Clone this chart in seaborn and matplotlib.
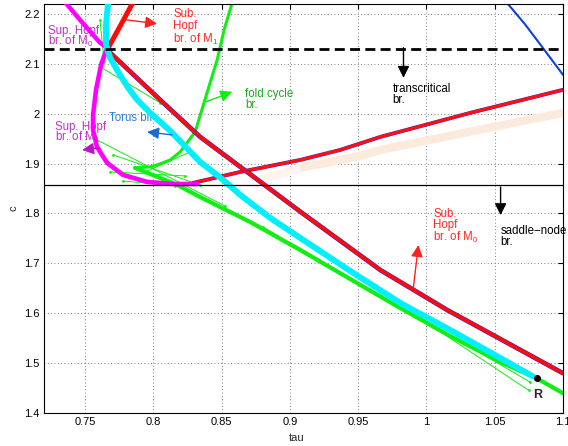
import matplotlib
matplotlib.use("Agg")
import matplotlib.pyplot as plt
import seaborn as sns
from matplotlib.patches import FancyArrowPatch

# ---------------- data (tau, c) ----------------
tau_hopf_m0_sup = [0.7339, 0.7464, 0.7610, 0.7662]
c_hopf_m0_sup = [2.2287, 2.1880, 2.1424, 2.1323]

tau_hopf_m0_sub = [0.7662, 0.7684, 0.8050, 0.8343, 0.9077, 0.9663, 1.0154, 1.1000]
c_hopf_m0_sub = [2.1323, 2.1224, 2.0279, 1.9536, 1.8036, 1.6866, 1.6062, 1.4797]

tau_hopf_m1_sub = [0.7662, 0.7760, 0.7865]
c_hopf_m1_sub = [2.1283, 2.1770, 2.2300]

tau_hopf_m1_sup = [0.7662, 0.7618, 0.7581, 0.7559, 0.7559, 0.7588, 0.7662, 0.7779,
                   0.7955, 0.8146, 0.8321]
c_hopf_m1_sup = [2.1323, 2.0982, 2.0480, 1.9978, 1.9677, 1.9335, 1.9014, 1.8773,
                 1.8633, 1.8592, 1.8592]

tau_red_rising = [0.8292, 0.8637, 0.9077, 0.9370, 0.9663, 1.0322, 1.1000]
c_red_rising = [1.8613, 1.8833, 1.9074, 1.9275, 1.9536, 2.0018, 2.0480]

tau_peach = [0.8747, 0.9077, 0.9516, 0.9663, 1.1000]
c_peach = [1.8653, 1.8914, 1.9155, 1.9275, 2.0018]

tau_blue_top = [1.0585, 1.0601, 1.0720, 1.0835, 1.1000]
c_blue_top = [2.2300, 2.2187, 2.1800, 2.1384, 2.0780]

tau_torus = [0.7672, 0.7669, 0.7654, 0.7654, 0.7684, 0.7742, 0.7816, 0.7882, 0.7977,
             0.8124, 0.8343, 0.8512, 0.8637, 0.8857, 0.9077, 0.9443, 0.9810, 1.0176,
             1.0543, 1.0777]
c_torus = [2.2300, 2.2227, 2.1785, 2.1384, 2.1123, 2.0841, 2.0520, 2.0279, 2.0018,
           1.9657, 1.9034, 1.8673, 1.8372, 1.7910, 1.7508, 1.6845, 1.6203, 1.5661,
           1.5099, 1.4737]

tau_fold_upper = [0.8585, 0.8578, 0.8519, 0.8468, 0.8387, 0.8307, 0.8241, 0.8197,
                  0.8124, 0.8050, 0.7977, 0.7867]
c_fold_upper = [2.2300, 2.2227, 2.1685, 2.1082, 2.0360, 1.9637, 1.9395, 1.9235,
                1.9074, 1.8994, 1.8934, 1.8914]

tau_fold_lower = [0.7867, 0.8050, 0.8175, 0.8343, 0.8710, 0.9077, 0.9443, 0.9810,
                  1.0176, 1.0543, 1.0807, 1.1000]
c_fold_lower = [1.8914, 1.8713, 1.8572, 1.8331, 1.7829, 1.7267, 1.6684, 1.6102,
                1.5540, 1.5018, 1.4697, 1.4396]

# thin continuation segments: (tau0, c0, tau1, c1)
thin_tau0 = [0.7559, 0.7610, 0.7610, 0.7684, 0.7779, 0.8490, 0.8805, 1.0051, 0.9956, 0.7706, 0.7940]
thin_c0 = [1.9516, 2.0942, 2.1880, 1.8833, 1.8653, 1.8127, 1.7725, 1.5721, 1.5902, 1.9175, 1.8833]
thin_tau1 = [0.8527, 0.8050, 0.7640, 0.8234, 0.8160, 0.8732, 0.9568, 1.0748, 1.0762, 0.8343, 0.8270]
thin_c1 = [1.8147, 2.0220, 2.1030, 1.8753, 1.8553, 1.7806, 1.6500, 1.4456, 1.4616, 1.8572, 1.9235]

c_transcritical = 2.13
c_saddle_node = 1.858
tau_R, c_R = 1.0807, 1.4697

x_ticks = [0.75, 0.8, 0.85, 0.9, 0.95, 1.0, 1.05, 1.1]
x_tick_labels = ["0.75", "0.8", "0.85", "0.9", "0.95", "1", "1.05", "1.1"]
y_ticks = [1.4, 1.5, 1.6, 1.7, 1.8, 1.9, 2.0, 2.1, 2.2]
y_tick_labels = ["1.4", "1.5", "1.6", "1.7", "1.8", "1.9", "2", "2.1", "2.2"]

# ---------------- styling ----------------
sns.set_style("white")
plt.rcParams["font.family"] = ["Liberation Sans", "DejaVu Sans"]
plt.rcParams["mathtext.fontset"] = "custom"
plt.rcParams["mathtext.rm"] = "Liberation Sans"
plt.rcParams["mathtext.it"] = "Liberation Sans"

fig = plt.figure(figsize=(5.68, 4.46), dpi=100)
ax = fig.add_axes([0.0775, 0.074, 0.9137, 0.917])


def curve(tau, c, color, lw, z, **kw):
    sns.lineplot(x=tau, y=c, sort=False, estimator=None, color=color,
                 linewidth=lw, ax=ax, zorder=z, **kw)


GREEN = "#11ee11"
# thin green continuation branches
for t0, c0, t1, c1 in zip(thin_tau0, thin_c0, thin_tau1, thin_c1):
    curve([t0, t1], [c0, c1], GREEN, 0.7, 2.0, marker="o", markersize=2,
          markeredgewidth=0)

curve(tau_peach[:2], c_peach[:2], "#fef5ee", 6.0, 1.8, solid_capstyle="butt")
curve(tau_peach[1:], c_peach[1:], "#fcebdd", 6.0, 1.8, solid_capstyle="butt")
curve(tau_fold_upper, c_fold_upper, GREEN, 2.2, 2.2)
curve(tau_fold_lower, c_fold_lower, GREEN, 3.0, 2.2)
curve(tau_blue_top, c_blue_top, "#1040d8", 1.5, 2.3)
curve(tau_red_rising, c_red_rising, "#5020c0", 2.8, 2.4)
curve(tau_red_rising, c_red_rising, "#ff1010", 2.2, 2.45)
curve(tau_hopf_m0_sub, c_hopf_m0_sub, "#4020c0", 3.4, 2.5)
curve(tau_hopf_m0_sub, c_hopf_m0_sub, "#ff0a0a", 2.6, 2.55)
curve(tau_hopf_m1_sub, c_hopf_m1_sub, "#ff0a0a", 3.6, 2.6)
curve(tau_hopf_m0_sup, c_hopf_m0_sup, "#ff00ff", 3.2, 2.7)
curve(tau_hopf_m1_sup, c_hopf_m1_sup, "#ff00ff", 3.3, 2.7)
curve(tau_torus, c_torus, "#00f0ff", 4.3, 2.9)

ax.axhline(c_saddle_node, color="black", lw=0.9, zorder=3.2)
ax.axhline(c_transcritical, color="black", lw=2.0, dashes=(3.6, 1.9), zorder=3.2)

ax.plot([tau_R], [c_R], "o", color="black", markersize=4, zorder=3.5)
ax.text(1.0814, 1.4355, "R", fontsize=9, fontweight="bold", ha="center", va="center",
        zorder=3.6, bbox=dict(facecolor="white", edgecolor="none", pad=0.5))

ax.set_xlim(0.72, 1.1)
ax.set_ylim(1.4, 2.22)
ax.set_xticks(x_ticks)
ax.set_xticklabels(x_tick_labels)
ax.set_yticks(y_ticks)
ax.set_yticklabels(y_tick_labels)
ax.tick_params(direction="in", length=3.5, width=0.8, labelsize=8, pad=3,
               top=True, right=True, colors="black")
for sp in ax.spines.values():
    sp.set_color("black")
    sp.set_linewidth(0.8)
ax.grid(True, color="#555555", lw=0.6, dashes=(1, 3))
ax.set_axisbelow(True)

ax.set_xlabel("tau", fontsize=8, va="center")
ax.xaxis.set_label_coords(0.4875, -0.061)
ax.set_ylabel("c", fontsize=8, va="center")
ax.yaxis.set_label_coords(-0.0597, 0.5)


def lbl(tau, c, s, color, ls=0.92):
    # c is the baseline of the last line
    ax.text(tau, c, s, fontsize=8.3, color=color, ha="left", va="baseline",
            linespacing=ls, zorder=1.5)


def arrow(t0, c0, t1, c1, color):
    ax.add_patch(FancyArrowPatch((t0, c0), (t1, c1), arrowstyle="-|>,head_length=0.7,head_width=0.35",
                                 mutation_scale=10, color=color, lw=1.0, zorder=3.4,
                                 shrinkA=0, shrinkB=0))


RED_T = "#ff2a2a"
MAG_T = "#c030c8"
# Sub. Hopf of M1 (top)
lbl(0.8146, 2.1424, "Sub.\nHopf\nbr. of M$_1$", RED_T, 0.98)
arrow(0.7794, 2.1885, 0.8028, 2.1805, "#ff2020")
# Sup. Hopf of M0
lbl(0.7230, 2.1384, "Sup. Hopf\nbr. of M$_0$", MAG_T, 0.70)
# Sup. Hopf of M1
lbl(0.7281, 1.9456, "Sup. Hopf\nbr. of M$_1$", MAG_T, 0.70)
arrow(0.7610, 1.9315, 0.7479, 1.9275, "#c010c8")
# torus
ax.text(0.7677, 1.9918, "Torus bif", fontsize=8.3, color="#2a80d0", ha="left",
        va="center", zorder=1.5)
arrow(0.8138, 1.9576, 0.7955, 1.9636, "#1a6cc8")
# fold cycle
lbl(0.8673, 2.0119, "fold cycle\nbr.", "#22a822")
arrow(0.8387, 2.0239, 0.8578, 2.0440, GREEN)
# transcritical
lbl(0.9751, 2.0215, "transcritical\nbr.", "black")
arrow(0.9832, 2.1323, 0.9832, 2.0720, "black")
# saddle-node
lbl(1.0543, 1.7363, "saddle\u2212node\nbr.", "black")
arrow(1.0543, 1.8532, 1.0543, 1.7967, "black")
# Sub. Hopf of M0
lbl(1.0051, 1.7444, "Sub.\nHopf\nbr. of M$_0$", RED_T)
arrow(0.9905, 1.6524, 0.9941, 1.7367, "#ff2020")

fig.savefig("out.png", dpi=100)
